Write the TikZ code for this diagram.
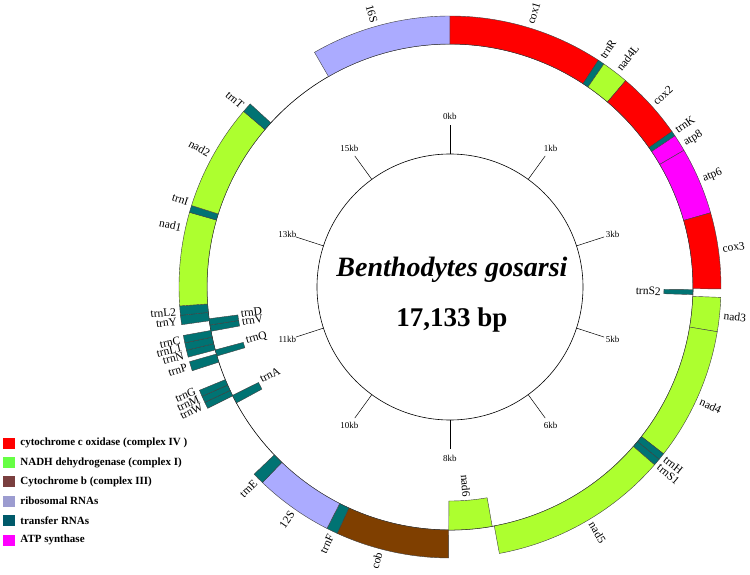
\documentclass[tikz,border=0pt]{standalone}
\usepackage{fontspec}
\setmainfont{Liberation Serif}
\usetikzlibrary{positioning}
\definecolor{coxred}{HTML}{FF0000}
\definecolor{nadgreen}{HTML}{ADFF2F}
\definecolor{cobbrown}{HTML}{7F3F00}
\definecolor{rrnablue}{HTML}{ABABFF}
\definecolor{trnateal}{HTML}{007373}
\definecolor{atppink}{HTML}{FF00FF}
\definecolor{legnad}{HTML}{66FF44}
\definecolor{legcob}{HTML}{7A3F3F}
\definecolor{legrrna}{HTML}{9C9CD0}
\definecolor{legtrna}{HTML}{005A6A}
\begin{document}
\begin{tikzpicture}[x=1pt, y=1pt,
    genebox/.style={draw=black!75, line width=0.4pt},
    genelabel/.style={font=\fontsize{11.5}{13}\selectfont, inner sep=1pt},
    kblabel/.style={font=\fontsize{9}{10}\selectfont, inner sep=0pt},
    legbox/.style={minimum width=12pt, minimum height=11pt, inner sep=0pt},
    legtext/.style={font=\bfseries\fontsize{11}{13}\selectfont, inner sep=0pt}]
\useasboundingbox (-450,-287) rectangle (300,287);
\draw[line width=0.6pt] (0,0) circle[radius=243];
\draw[line width=0.6pt] (0,0) circle[radius=133];
\foreach \k [count=\i from 0] in {0,1,3,5,6,8,10,11,13,15} {
  \draw[line width=0.5pt] ({90-36*\i}:133) -- ({90-36*\i}:162);
  \node[kblabel] (kb\k) at ({90-36*\i}:171) {\k kb};
}
\foreach \s/\e/\c in {330/360/rrnablue, 0/33.2/coxred, 33.2/34.6/trnateal, 34.6/40.4/nadgreen,
    40.4/55/coxred, 55/56.1/trnateal, 56.1/59.7/atppink, 59.7/74.1/atppink, 74.1/90.4/coxred,
    92.2/99.5/nadgreen, 99.5/128/nadgreen, 128/129.5/trnateal, 129.5/131/trnateal,
    131/169.5/nadgreen, 180.3/204.6/cobbrown, 204.6/207/trnateal, 207/223.8/rrnablue,
    223.8/226.3/trnateal, 243.4/244.8/trnateal, 244.8/246.2/trnateal, 246.2/247.6/trnateal,
    252/254/trnateal, 255/256.5/trnateal, 256.5/258.1/trnateal, 258.1/259.7/trnateal,
    262/264/trnateal, 264/266/trnateal, 266/286/nadgreen, 286/287.5/trnateal,
    287.5/310.4/nadgreen, 310.4/312.5/trnateal}
  \draw[genebox, fill=\c] ({90-\s}:243) arc[start angle={90-\s}, end angle={90-\e}, radius=243]
    -- ({90-\e}:271) arc[start angle={90-\e}, end angle={90-\s}, radius=271] -- cycle;
\foreach \s/\e/\c in {90.6/91.8/trnateal, 170/180.3/nadgreen, 259.5/261/trnateal,
    261/262.5/trnateal, 253.5/255/trnateal, 241.5/243.5/trnateal}
  \draw[genebox, fill=\c] ({90-\s}:214) arc[start angle={90-\s}, end angle={90-\e}, radius=214]
    -- ({90-\e}:243) arc[start angle={90-\e}, end angle={90-\s}, radius=243] -- cycle;
\foreach \t/\a in {cox1/17, trnR/33.6, nad4L/37.8, cox2/48, trnK/55.3, atp8/58.6, atp6/67,
    cox3/82, nad3/96, nad4/114.5, trnH/128.6, trnS1/130.6, nad5/149}
  \node[genelabel, anchor=west, rotate={90-\a}] (l\t) at ({90-\a}:274) {\t};
\foreach \t/\a in {cob/195, trnF/205.6, 12S/215, trnE/225, trnW/244.3, trnM/246, trnG/247.8,
    trnP/253, trnN/255.6, trnL1/257.2, trnC/258.8, trnY/262.8, trnL2/264.8, nad1/282.5,
    trnI/288, nad2/299, trnT/311, 16S/344}
  \node[genelabel, anchor=east, rotate={270-\a}] (l\t) at ({90-\a}:274) {\t};
\foreach \t/\a in {trnS2/91.2, nad6/175.5}
  \node[genelabel, anchor=east, rotate={90-\a}] (l\t) at ({90-\a}:212) {\t};
\foreach \t/\a in {trnD/262.8, trnV/260.5, trnQ/255.2, trnA/244}
  \node[genelabel, anchor=west, rotate={270-\a}] (l\t) at ({90-\a}:212) {\t};
\node[font=\bfseries\itshape\fontsize{28}{32}\selectfont] (species) at (2,17) {Benthodytes gosarsi};
\node[font=\bfseries\fontsize{27}{30}\selectfont] (length) at (2,-33) {17,133 bp};
\node[legbox, fill=coxred] (lcox) at (-441,-156) {};
\node[legbox, fill=legnad, below=8pt of lcox] (lnad) {};
\node[legbox, fill=legcob, below=8pt of lnad] (lcob) {};
\node[legbox, fill=legrrna, below=8pt of lcob] (lrrna) {};
\node[legbox, fill=legtrna, below=8pt of lrrna] (ltrna) {};
\node[legbox, fill=atppink, below=8pt of ltrna] (latp) {};
\node[legtext, right=5pt of lcox] (tcox) {cytochrome c oxidase (complex IV )};
\node[legtext, right=5pt of lnad] (tnad) {NADH dehydrogenase (complex I)};
\node[legtext, right=5pt of lcob] (tcob) {Cytochrome b (complex III)};
\node[legtext, right=5pt of lrrna] (trrna) {ribosomal RNAs};
\node[legtext, right=5pt of ltrna] (ttrna) {transfer RNAs};
\node[legtext, right=5pt of latp] (tatp) {ATP synthase};
\end{tikzpicture}
\end{document}
